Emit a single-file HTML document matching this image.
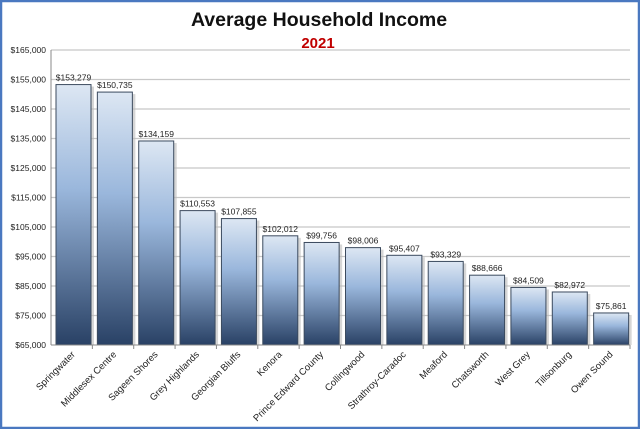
<!DOCTYPE html>
<html><head><style>
html,body{margin:0;padding:0;background:#fff}
svg{display:block}
text{font-family:"Liberation Sans",sans-serif}
</style></head><body>
<svg width="640" height="429" viewBox="0 0 640 429" xmlns="http://www.w3.org/2000/svg">
<defs>
<linearGradient id="g" x1="0" y1="0" x2="0" y2="1">
<stop offset="0" stop-color="#dde7f3"/>
<stop offset="0.4" stop-color="#9ab7dc"/>
<stop offset="1" stop-color="#294165"/>
</linearGradient>
</defs>
<rect x="0" y="0" width="640" height="429" fill="#fff"/>
<rect x="1" y="1" width="638" height="427" fill="none" stroke="#4a78c0" stroke-width="2.5"/>
<text x="319" y="26" text-anchor="middle" font-size="19.5" font-weight="bold" fill="#111">Average Household Income</text>
<text x="318" y="48" text-anchor="middle" font-size="15" font-weight="bold" fill="#c00000">2021</text>
<g stroke="#c8c8c8" stroke-width="1.3">
<line x1="51" x2="630" y1="50" y2="50"/><line x1="51" x2="630" y1="79.5" y2="79.5"/>
<line x1="51" x2="630" y1="109" y2="109"/><line x1="51" x2="630" y1="138.5" y2="138.5"/>
<line x1="51" x2="630" y1="168" y2="168"/><line x1="51" x2="630" y1="197.5" y2="197.5"/>
<line x1="51" x2="630" y1="227" y2="227"/><line x1="51" x2="630" y1="256.5" y2="256.5"/>
<line x1="51" x2="630" y1="286" y2="286"/><line x1="51" x2="630" y1="315.5" y2="315.5"/>
</g>
<g font-size="8.5" fill="#222" text-anchor="end">
<text x="46" y="53">$165,000</text><text x="46" y="82.5">$155,000</text>
<text x="46" y="112">$145,000</text><text x="46" y="141.5">$135,000</text>
<text x="46" y="171">$125,000</text><text x="46" y="200.5">$115,000</text>
<text x="46" y="230">$105,000</text><text x="46" y="259.5">$95,000</text>
<text x="46" y="289">$85,000</text><text x="46" y="318.5">$75,000</text>
<text x="46" y="348">$65,000</text>
</g>
<g id="bars"></g>
<line x1="51" x2="51" y1="50" y2="345" stroke="#888"/>
<line x1="51" x2="630" y1="345" y2="345" stroke="#888"/>
<g id="lbl"></g>
<script>
var d=[["Springwater",153279],["Middlesex Centre",150735],["Sageen Shores",134159],["Grey Highlands",110553],["Georgian Bluffs",107855],["Kenora",102012],["Prince Edward County",99756],["Collingwood",98006],["Strathroy-Caradoc",95407],["Meaford",93329],["Chatsworth",88666],["West Grey",84509],["Tillsonburg",82972],["Owen Sound",75861]];
var ns="http://www.w3.org/2000/svg",b=document.getElementById("bars"),l=document.getElementById("lbl");
function el(t,a,p,tx){var e=document.createElementNS(ns,t);for(var k in a)e.setAttribute(k,a[k]);if(tx)e.textContent=tx;p.appendChild(e);return e;}
var pw=579/14;
for(var i=0;i<14;i++){var x=51+pw*i+5,v=d[i][1],y=345-(v-65000)/100000*295,h=345-y;
el("rect",{x:x+3,y:y+2,width:35,height:h-2,fill:"#bbb",opacity:"0.6"},b);
el("rect",{x:x,y:y,width:35,height:h,fill:"url(#g)",stroke:"#3b4a5e","stroke-width":"1"},b);
el("text",{x:x+17.5,y:y-4,"text-anchor":"middle","font-size":"8.5",fill:"#222"},b,"$"+v.toLocaleString("en-US"));
el("line",{x1:51+pw*(i+1),x2:51+pw*(i+1),y1:345,y2:349,stroke:"#888"},l);
var cx=51+pw*(i+0.5)+4;
el("text",{x:cx,y:355,"text-anchor":"end","font-size":"9.5",fill:"#222",transform:"rotate(-45 "+cx+" 355)"},l,d[i][0]);}
</script>
</svg>
</body></html>
